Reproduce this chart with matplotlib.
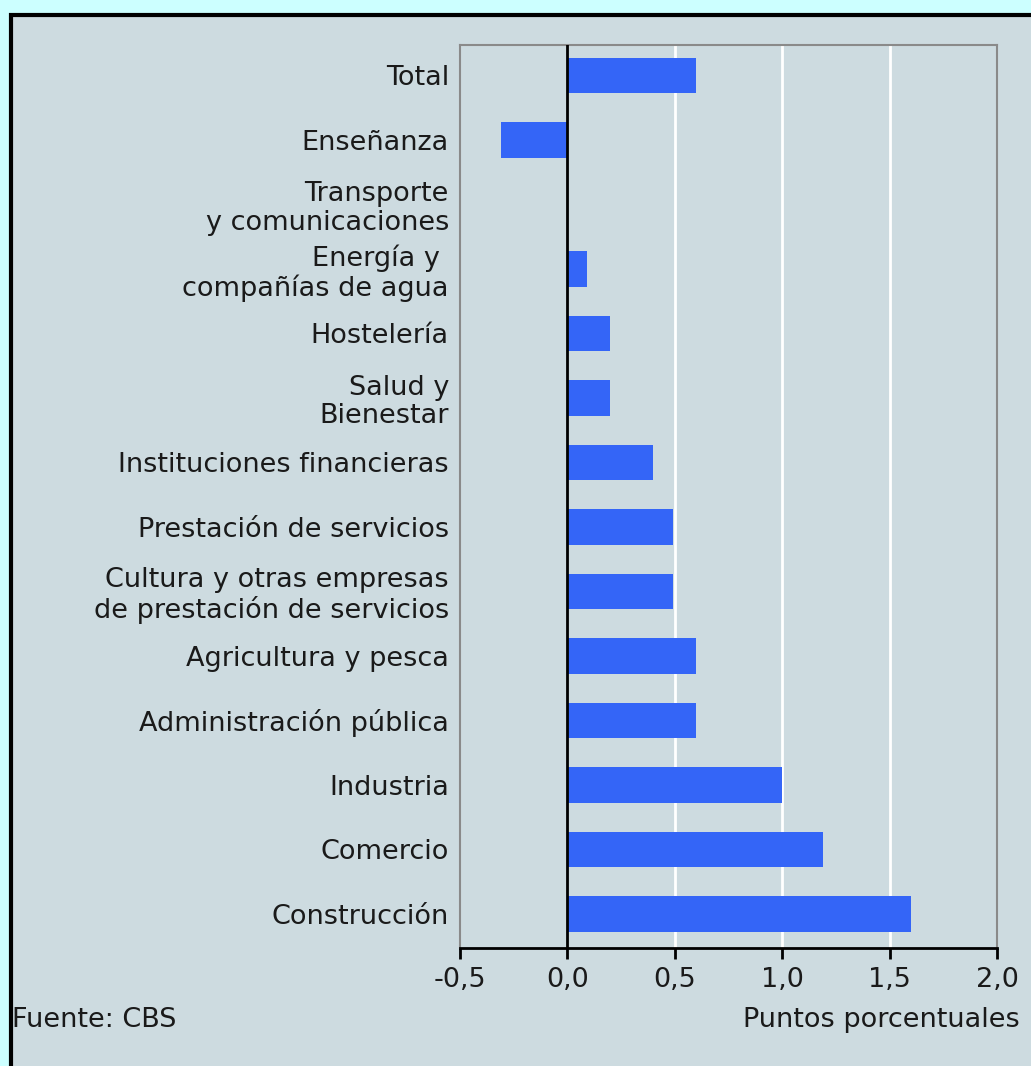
import matplotlib
matplotlib.use("Agg")
import matplotlib.pyplot as plt
from matplotlib.patches import Rectangle

categories = [
    "Total",
    "Enseñanza",
    "Transporte\ny comunicaciones",
    "Energía y \ncompañías de agua",
    "Hostelería",
    "Salud y\nBienestar",
    "Instituciones financieras",
    "Prestación de servicios",
    "Cultura y otras empresas\nde prestación de servicios",
    "Agricultura y pesca",
    "Administración pública",
    "Industria",
    "Comercio",
    "Construcción",
]
values = [0.6, -0.31, 0.0, 0.09, 0.2, 0.2, 0.4, 0.49, 0.49, 0.6, 0.6, 1.0, 1.19, 1.6]
xticks = [-0.5, 0.0, 0.5, 1.0, 1.5, 2.0]
xticklabels = ["-0,5", "0,0", "0,5", "1,0", "1,5", "2,0"]

outer = "#ccffff"
inner = "#cddbe0"
bar_color = "#3465f7"
fs = 19.5
txt = "#1a1a1a"

W, H = 1031, 1066
fig = plt.figure(figsize=(W / 100, H / 100), dpi=100)
fig.patch.set_facecolor(outer)

# frame
frame = Rectangle((10.5 / W, -0.05), 1.1, 1 - 14.5 / H + 0.05, transform=fig.transFigure,
                  facecolor=inner, edgecolor="black", linewidth=3, zorder=-10)
fig.patches.append(frame)

ax = fig.add_axes([460 / W, 1 - 948 / H, 537 / W, (948 - 45) / H])
ax.set_facecolor(inner)

y = list(range(len(categories)))
ax.barh(y, values, height=0.55, color=bar_color, zorder=3)
ax.set_ylim(len(categories) - 0.47, -0.47)
ax.set_xlim(-0.5, 2.0)

for g in [0.5, 1.0, 1.5]:
    ax.axvline(g, color="white", linewidth=2, zorder=1)
ax.axvline(0, color="black", linewidth=2, zorder=4)

ax.set_yticks(y)
ax.set_yticklabels(categories, fontsize=fs, color=txt, linespacing=1.12)
ax.tick_params(axis="y", length=0, pad=8)
ax.set_xticks(xticks)
ax.set_xticklabels(xticklabels, fontsize=fs, color=txt)
ax.tick_params(axis="x", direction="out", length=8, width=2, color="black", pad=6)

for s in ["left", "right", "top"]:
    ax.spines[s].set_color("#8a8a8a")
    ax.spines[s].set_linewidth(1.5)
ax.spines["bottom"].set_color("black")
ax.spines["bottom"].set_linewidth(2)

fig.text(12 / W, 1 - 1020 / H, "Fuente: CBS", fontsize=fs, color=txt,
         ha="left", va="center")
fig.text(1020 / W, 1 - 1020 / H, "Puntos porcentuales", fontsize=fs, color=txt,
         ha="right", va="center")

fig.savefig("out.png", dpi=100, facecolor=outer)
